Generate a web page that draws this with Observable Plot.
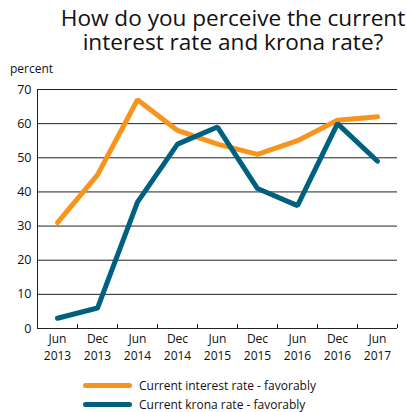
<!DOCTYPE html>
<html>
<head>
<meta charset="utf-8">
<script src="https://cdn.jsdelivr.net/npm/d3@7"></script>
<script src="https://cdn.jsdelivr.net/npm/@observablehq/plot@0.6"></script>
<style>
  body { margin: 0; background: #fff; }
  #chart { position: relative; width: 407px; height: 412px; font-family: "Open Sans", "Noto Sans", sans-serif; color: #111; }
  #title { position: absolute; left: 60px; width: 346px; top: 6px; text-align: center; font-size: 22.6px; line-height: 24px; }
  #unit { position: absolute; left: 10px; top: 60px; font-size: 12px; }
  #plot { position: absolute; left: 0; top: 80px; }
  #legend { position: absolute; left: 83px; top: 376px; font-size: 12px; }
  .item { display: flex; align-items: center; height: 19px; }
  .sw { width: 49px; height: 5px; border-radius: 3px; margin-right: 7px; }
</style>
</head>
<body>
<div id="chart">
  <div id="title">How do you perceive the current interest rate and krona rate?</div>
  <div id="unit">percent</div>
  <div id="plot"></div>
  <div id="legend"></div>
</div>
<script>
const months = ["Jun", "Dec", "Jun", "Dec", "Jun", "Dec", "Jun", "Dec", "Jun"];
const years = ["2013", "2013", "2014", "2014", "2015", "2015", "2016", "2016", "2017"];
const interestRate = [31, 45, 67, 58, 54, 51, 55, 61, 62];
const kronaRate = [3, 6, 37, 54, 59, 41, 36, 60, 49];
const seriesNames = ["Current interest rate - favorably", "Current krona rate - favorably"];
const seriesColors = ["#F7941D", "#00607F"];
const yTicks = [0, 10, 20, 30, 40, 50, 60, 70];

const idx = d3.range(months.length);
const data = [
  ...idx.map(i => ({i, v: interestRate[i], s: seriesNames[0]})),
  ...idx.map(i => ({i, v: kronaRate[i], s: seriesNames[1]}))
];
const bounds = idx.map(i => i + 0.5);
const xDomain = [-0.5, months.length - 0.5];

const chart = Plot.plot({
  width: 407,
  height: 290,
  marginTop: 9,
  marginBottom: 42,
  marginLeft: 37,
  marginRight: 10,
  style: {fontFamily: "'Open Sans', 'Noto Sans', sans-serif", fontSize: "12px", color: "#111", background: "#fff"},
  x: {type: "linear", domain: xDomain},
  y: {domain: [0, 70]},
  color: {domain: seriesNames, range: seriesColors},
  marks: [
    Plot.ruleY(yTicks, {stroke: "#222", strokeWidth: 1}),
    Plot.ruleX([xDomain[0]], {y1: 0, y2: 70, stroke: "#222", strokeWidth: 1}),
    Plot.axisY({ticks: yTicks, tickSize: 0, tickPadding: 6, label: null, fontSize: 12.5}),
    Plot.axisX({ticks: bounds, tickSize: -4, tickFormat: () => "", label: null, stroke: "#222"}),
    Plot.axisX({ticks: idx, tickSize: 0, tickPadding: 6, label: null,
      tickFormat: i => months[i], fontSize: 12}),
    Plot.axisX({ticks: idx, tickSize: 0, tickPadding: 23, label: null,
      tickFormat: i => years[i], fontSize: 12}),
    Plot.line(data, {x: "i", y: "v", z: "s", stroke: "s", strokeWidth: 5, strokeLinecap: "round", strokeLinejoin: "miter"})
  ]
});
document.getElementById("plot").appendChild(chart);

const legend = document.getElementById("legend");
seriesNames.forEach((name, k) => {
  const it = document.createElement("div");
  it.className = "item";
  const sw = document.createElement("div");
  sw.className = "sw";
  sw.style.background = seriesColors[k];
  const t = document.createElement("span");
  t.textContent = name;
  it.appendChild(sw); it.appendChild(t);
  legend.appendChild(it);
});
</script>
</body>
</html>
